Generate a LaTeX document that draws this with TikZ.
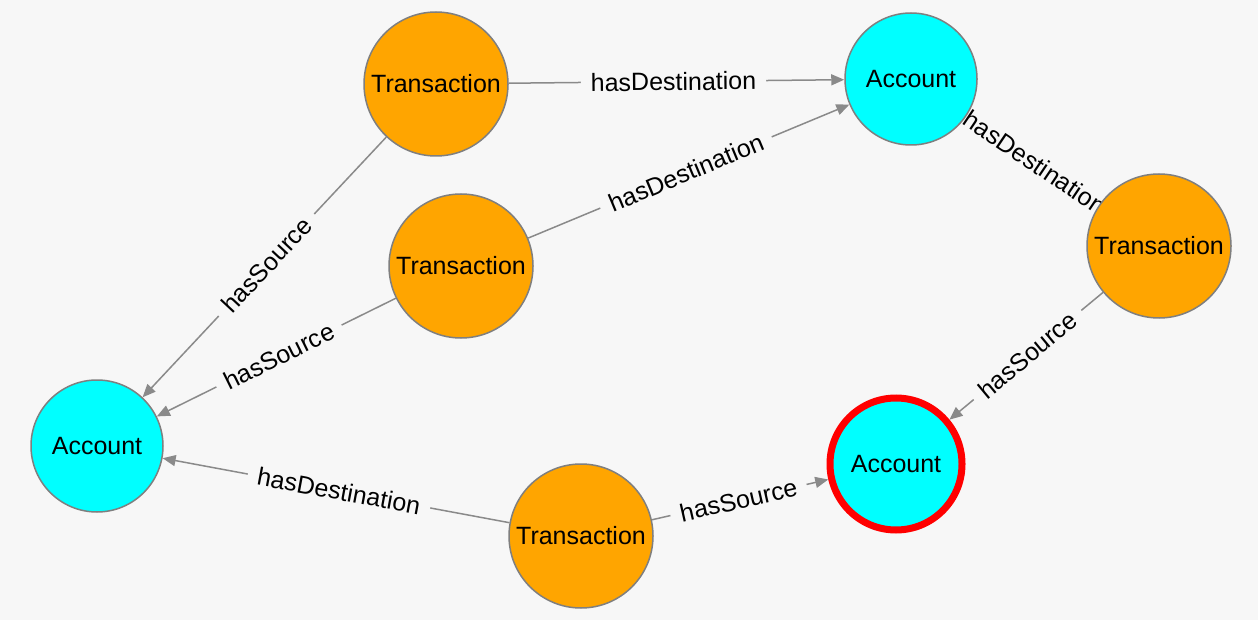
\documentclass[tikz,border=0pt]{standalone}
\usepackage{fontspec}
\setmainfont{Liberation Sans}
\usetikzlibrary{arrows.meta}
\definecolor{bgc}{HTML}{F7F7F7}
\definecolor{edgec}{HTML}{8A8A8A}
\definecolor{orangec}{HTML}{FFA500}
\definecolor{cyanc}{HTML}{00FFFF}
\definecolor{borderc}{HTML}{7F7F7F}
\pgfdeclarelayer{bglayer}
\pgfdeclarelayer{edgelayer}
\pgfsetlayers{bglayer,edgelayer,main}
\begin{document}
\begin{tikzpicture}[x=1pt,y=-1pt,
  txn/.style={circle, fill=orangec, draw=borderc, line width=1.5pt, minimum size=144pt, inner sep=0pt, font=\fontsize{25}{29}\selectfont},
  acct/.style={circle, fill=cyanc, draw=borderc, line width=1.5pt, minimum size=132pt, inner sep=0pt, font=\fontsize{25}{29}\selectfont},
  selacct/.style={acct, draw=red, line width=7pt},
  edge/.style={draw=edgec, line width=1.5pt, -{Triangle[length=13pt,width=11pt]}},
  lbl/.style={fill=bgc, inner xsep=10pt, inner ysep=2pt, sloped, font=\fontsize{25}{29}\selectfont}
]
\useasboundingbox (0,0) rectangle (1258,620);
\begin{pgfonlayer}{bglayer}
\fill[bgc] (0,0) rectangle (1258,620);
\end{pgfonlayer}

\node[txn] (t1) at (436,84) {Transaction};
\node[txn] (t2) at (461,266) {Transaction};
\node[txn] (t3) at (1159,246) {Transaction};
\node[txn] (t4) at (581,536) {Transaction};
\node[acct] (a1) at (911,79) {Account};
\node[acct] (a2) at (97,446) {Account};
\node[selacct] (a3) at (896,464) {Account};

\begin{pgfonlayer}{edgelayer}
\draw[edge] (t1) -- (a1);
\draw[edge] (t2) -- (a1);
\draw[edge] (t3) -- (a1);
\draw[edge] (t3) -- (a3);
\draw[edge] (t1) -- (a2);
\draw[edge] (t2) -- (a2);
\draw[edge] (t4) -- (a2);
\draw[edge] (t4) -- (a3);
\path (t1.center) -- node[lbl] {hasDestination} (a1.center);
\path (t2.center) -- node[lbl] {hasDestination} (a1.center);
\path (t3.center) -- node[lbl] {hasDestination} (a1.center);
\path (t3.center) -- node[lbl] {hasSource} (a3.center);
\path (t1.center) -- node[lbl] {hasSource} (a2.center);
\path (t2.center) -- node[lbl] {hasSource} (a2.center);
\path (t4.center) -- node[lbl] {hasDestination} (a2.center);
\path (t4.center) -- node[lbl] {hasSource} (a3.center);
\end{pgfonlayer}
\end{tikzpicture}
\end{document}
